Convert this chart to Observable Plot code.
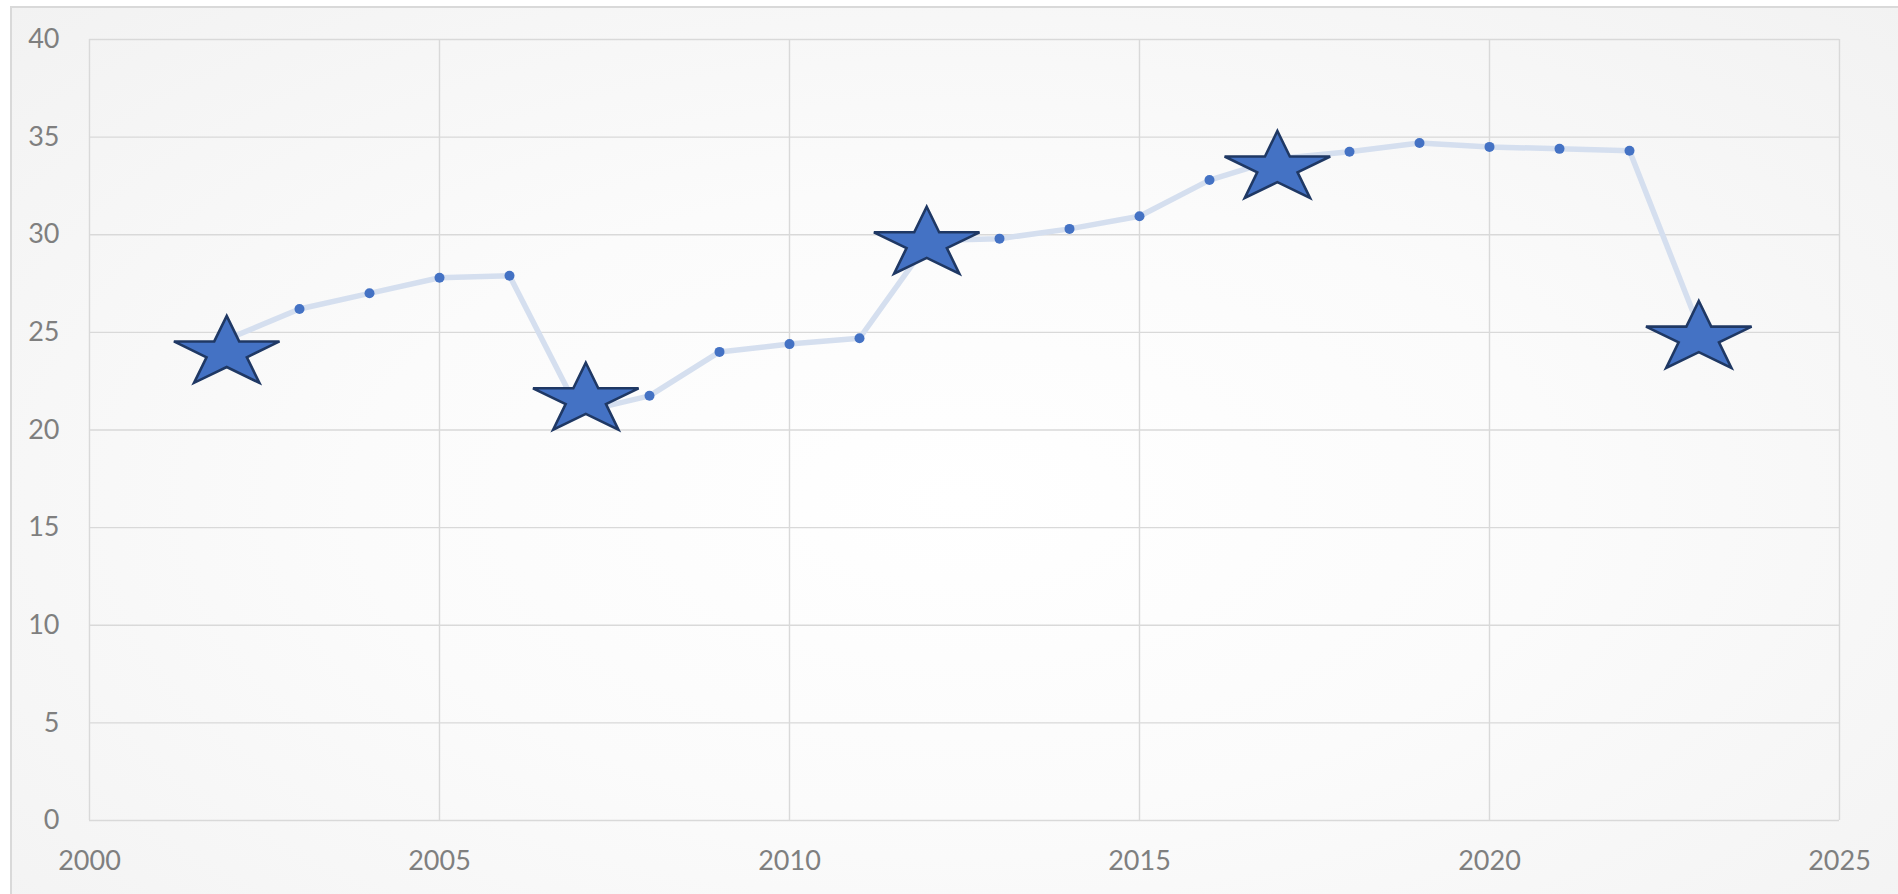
<!DOCTYPE html>
<html>
<head>
<meta charset="utf-8">
<script src="https://cdn.jsdelivr.net/npm/d3@7"></script>
<script src="https://cdn.jsdelivr.net/npm/@observablehq/plot@0.6"></script>
<style>
  html, body { margin: 0; padding: 0; background: #ffffff; }
  #frame {
    position: absolute; left: 10px; top: 6px; width: 1900px; height: 900px;
    border: 2px solid #d9d9d9; box-sizing: border-box;
    background: radial-gradient(ellipse at 50% 55%, #ffffff 0%, #fbfbfb 45%, #f2f2f2 100%);
  }
  #chart { position: absolute; left: 0; top: 0; }
</style>
</head>
<body>
<div id="frame"></div>
<div id="chart"></div>
<script>
// Line series
const years  = [2002, 2003, 2004, 2005, 2006, 2007, 2008, 2009, 2010, 2011, 2012,
                2013, 2014, 2015, 2016, 2017, 2018, 2019, 2020, 2021, 2022, 2023];
const values = [24.7, 26.2, 27.0, 27.8, 27.9, 20.9, 21.75, 24.0, 24.4, 24.7, 29.7,
                29.8, 30.3, 30.95, 32.8, 33.9, 34.25, 34.7, 34.5, 34.4, 34.3, 25.2];
// Star-highlight series (a separate series in the reference)
const starX = [2001.96, 2007.09, 2011.96, 2016.97, 2022.99];
const starY = [23.95, 21.55, 29.54, 33.42, 24.71];
const starYears = [2002, 2007, 2012, 2017, 2023];
// Axis ticks
const xTicks = [2000, 2005, 2010, 2015, 2020, 2025];
const yTicks = [0, 5, 10, 15, 20, 25, 30, 35, 40];

const lineData = years.map((y, i) => ({year: y, value: values[i]}));
const dotData = lineData.filter(d => !starYears.includes(d.year));
const starData = starX.map((x, i) => ({year: x, value: starY[i]}));

// Horizontally stretched five-point star (as in the reference)
const stretchedStar = {
  draw(context, size) {
    const R = Math.sqrt(size / Math.PI);
    const inner = 0.382 * R;
    const sx = 1.5;
    for (let k = 0; k < 10; k++) {
      const a = k * Math.PI / 5;
      const rad = k % 2 === 0 ? R : inner;
      const x = Math.sin(a) * rad * sx;
      const y = -Math.cos(a) * rad;
      if (k === 0) context.moveTo(x, y); else context.lineTo(x, y);
    }
    context.closePath();
  }
};

const chart = Plot.plot({
  width: 1898,
  height: 894,
  marginLeft: 89,
  marginRight: 59,
  marginTop: 39,
  marginBottom: 74,
  style: {background: "transparent", fontFamily: "Lato, 'Open Sans', sans-serif", fontSize: "27px", color: "#7f7f7f", overflow: "visible"},
  x: {domain: [2000, 2025], ticks: xTicks, tickFormat: "d", label: null},
  y: {domain: [0, 40], ticks: yTicks, label: null},
  marks: [
    Plot.ruleY(yTicks, {stroke: "#d9d9d9", strokeWidth: 1.4, strokeOpacity: 1}),
    Plot.ruleX(xTicks, {stroke: "#d9d9d9", strokeWidth: 1.4, strokeOpacity: 1}),
    Plot.axisX({ticks: xTicks, tickFormat: "d", tickSize: 0, tickPadding: 30, label: null, fill: "#7f7f7f"}),
    Plot.axisY({ticks: yTicks, tickSize: 0, tickPadding: 30, label: null, fill: "#7f7f7f"}),
    Plot.line(lineData, {x: "year", y: "value", stroke: "#d5dfef", strokeWidth: 5.5, strokeLinejoin: "round"}),
    Plot.dot(dotData, {x: "year", y: "value", r: 5, fill: "#4472c4", stroke: "none"}),
    Plot.dot(starData, {x: "year", y: "value", r: 37, symbol: stretchedStar,
      fill: "#4472c4", stroke: "#1f3864", strokeWidth: 2.6, strokeLinejoin: "miter"})
  ]
});
document.getElementById("chart").appendChild(chart);
</script>
</body>
</html>
